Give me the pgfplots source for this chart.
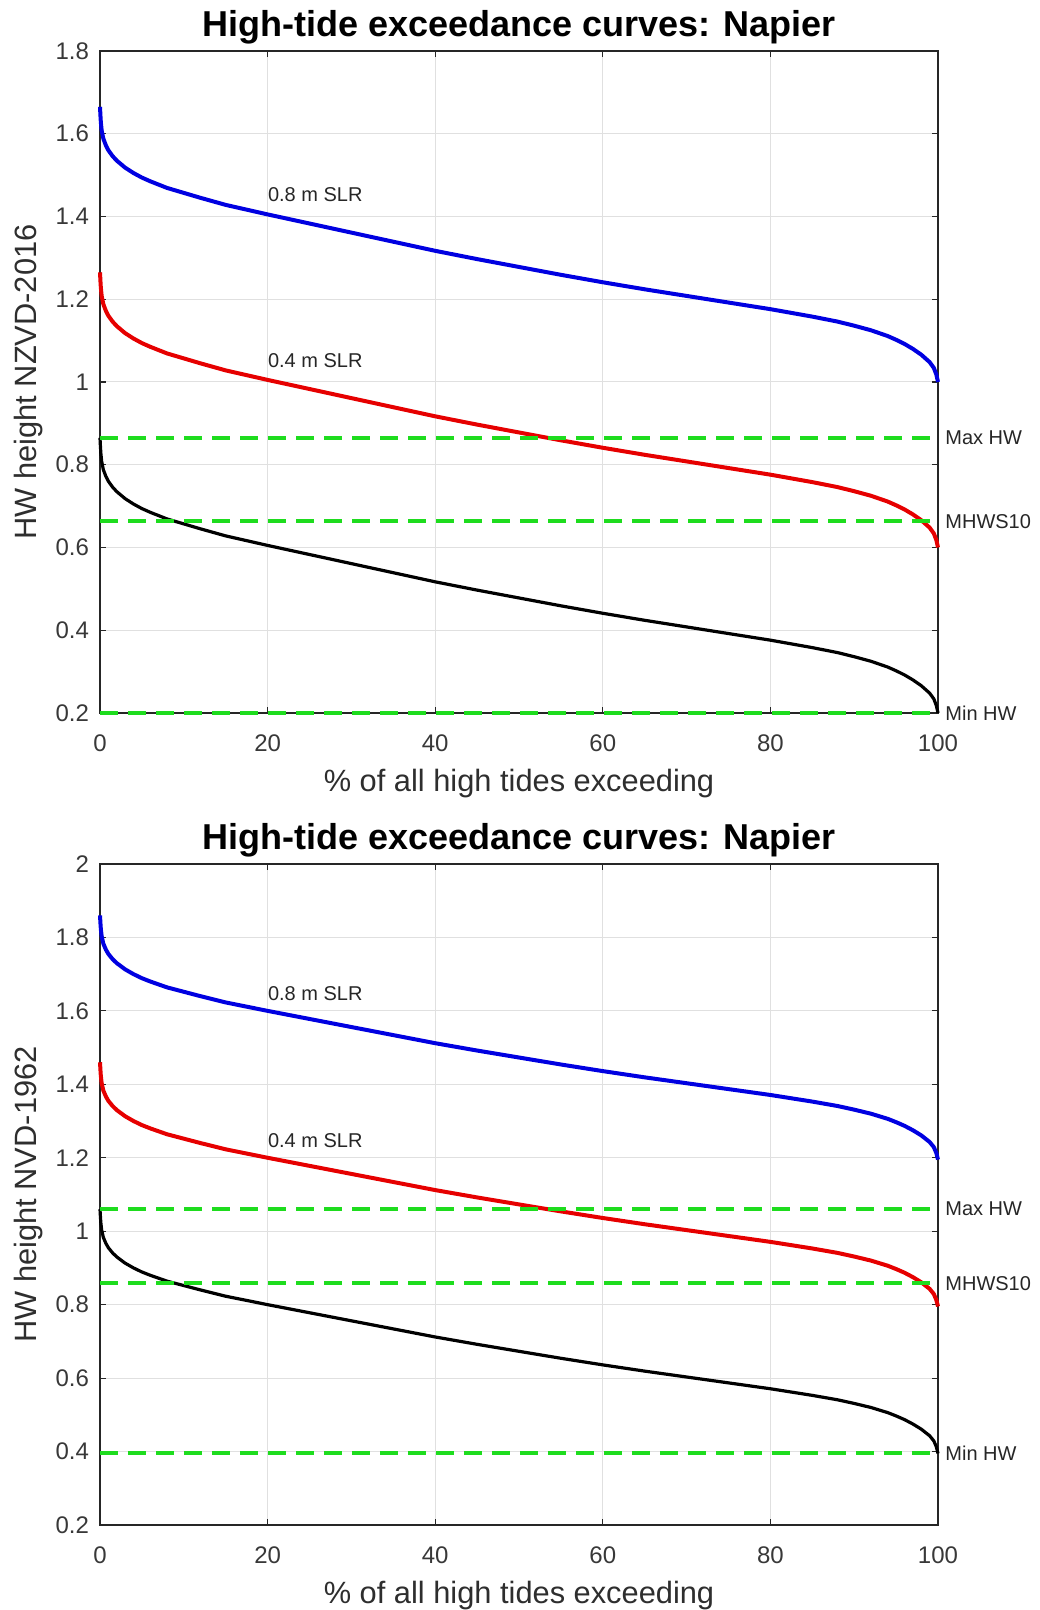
\documentclass[border=0pt]{standalone}
\usepackage{pgfplots}
\pgfplotsset{compat=1.18}
\usepackage{pgfplotstable}
\usepackage{fontspec}
\setmainfont{Liberation Sans}
\definecolor{mgreen}{RGB}{30,220,30}
\definecolor{mblue}{RGB}{0,0,225}
\definecolor{mred}{RGB}{230,0,0}
\definecolor{axgray}{RGB}{38,38,38}

\pgfplotstableread{
x base p04 p08
0 0.865 1.265 1.665
0.05 0.845 1.245 1.645
0.1 0.828 1.228 1.628
0.2 0.808 1.208 1.608
0.4 0.788 1.188 1.588
0.7 0.772 1.172 1.572
1 0.760 1.160 1.560
1.5 0.746 1.146 1.546
2 0.735 1.135 1.535
3 0.718 1.118 1.518
4 0.705 1.105 1.505
5 0.694 1.094 1.494
6 0.685 1.085 1.485
8 0.669 1.069 1.469
10 0.657 1.057 1.457
12 0.645 1.045 1.445
15 0.628 1.028 1.428
20 0.605 1.005 1.405
25 0.583 0.983 1.383
30 0.561 0.961 1.361
35 0.539 0.939 1.339
40 0.517 0.917 1.317
45 0.497 0.897 1.297
50 0.478 0.878 1.278
55 0.459 0.859 1.259
60 0.441 0.841 1.241
65 0.424 0.824 1.224
70 0.408 0.808 1.208
75 0.392 0.792 1.192
80 0.376 0.776 1.176
85 0.358 0.758 1.158
88 0.346 0.746 1.146
90 0.336 0.736 1.136
92 0.325 0.725 1.125
94 0.311 0.711 1.111
95 0.302 0.702 1.102
96 0.292 0.692 1.092
97 0.280 0.680 1.080
98 0.266 0.666 1.066
99 0.248 0.648 1.048
99.5 0.234 0.634 1.034
99.8 0.218 0.618 1.018
100 0.200 0.600 1.000
}\topdata

\pgfplotstableread{
x base p04 p08
0 1.060 1.460 1.860
0.05 1.040 1.440 1.840
0.1 1.023 1.423 1.823
0.2 1.003 1.403 1.803
0.4 0.983 1.383 1.783
0.7 0.967 1.367 1.767
1 0.955 1.355 1.755
1.5 0.941 1.341 1.741
2 0.930 1.330 1.730
3 0.913 1.313 1.713
4 0.900 1.300 1.700
5 0.889 1.289 1.689
6 0.880 1.280 1.680
8 0.864 1.264 1.664
10 0.852 1.252 1.652
12 0.840 1.240 1.640
15 0.823 1.223 1.623
20 0.800 1.200 1.600
25 0.778 1.178 1.578
30 0.756 1.156 1.556
35 0.734 1.134 1.534
40 0.712 1.112 1.512
45 0.692 1.092 1.492
50 0.673 1.073 1.473
55 0.654 1.054 1.454
60 0.636 1.036 1.436
65 0.619 1.019 1.419
70 0.603 1.003 1.403
75 0.587 0.987 1.387
80 0.571 0.971 1.371
85 0.553 0.953 1.353
88 0.541 0.941 1.341
90 0.531 0.931 1.331
92 0.520 0.920 1.320
94 0.506 0.906 1.306
95 0.497 0.897 1.297
96 0.487 0.887 1.287
97 0.475 0.875 1.275
98 0.461 0.861 1.261
99 0.443 0.843 1.243
99.5 0.429 0.829 1.229
99.8 0.413 0.813 1.213
100 0.395 0.795 1.195
}\botdata

\tikzset{
  annot/.style={font=\fontsize{10}{12}\selectfont, text=black!85, inner sep=0pt, anchor=west},
  glabel/.style={font=\fontsize{10}{12}\selectfont, text=black!85, inner sep=0pt, anchor=west, xshift=3.5pt},
  gline/.style={mgreen, line width=2pt, dash pattern=on 9pt off 5pt},
}
\pgfplotsset{
  tidestyle/.style={
    scale only axis,
    width=419pt,
    anchor=south west,
    xmin=0, xmax=100,
    xtick={0,20,40,60,80,100},
    clip=false,
    axis line style={axgray, line width=0.6pt},
    tick style={axgray, line width=0.6pt},
    major tick length=3pt,
    tick align=inside,
    grid=major,
    major grid style={black!12, line width=0.5pt},
    /pgf/number format/assume math mode=true,
    ticklabel style={font=\fontsize{12}{14}\selectfont, text=black!78},
    xticklabel style={yshift=-7.5pt},
    yticklabel style={xshift=-2pt},
    label style={font=\fontsize{15.4}{18}\selectfont, text=black!82},
    xlabel style={at={(axis description cs:0.5,-0.1073)}, anchor=center},
    ylabel style={at={(axis description cs:-0.0847,0.5)}, anchor=center},
    title style={font=\bfseries\fontsize{18}{21}\selectfont, at={(axis description cs:0.5,1)}, anchor=center, yshift=6pt},
    title={High-tide exceedance curves: Napier},
    xlabel={\% of all high tides exceeding},
  },
}

\begin{document}
\begin{tikzpicture}
\path[use as bounding box] (0pt,0pt) rectangle (519.5pt,805pt);

\begin{axis}[tidestyle,
  at={(50pt,448.5pt)},
  height=331pt,
  ymin=0.2, ymax=1.8,
  ytick={0.2,0.4,0.6,0.8,1,1.2,1.4,1.6,1.8},
  ylabel={HW height NZVD-2016},
]
\addplot[mblue, line width=2pt] table[x=x, y=p08] {\topdata};
\addplot[mred, line width=2pt] table[x=x, y=p04] {\topdata};
\addplot[black, line width=1.6pt] table[x=x, y=base] {\topdata};
\addplot[gline] coordinates {(0,0.865) (100,0.865)};
\addplot[gline] coordinates {(0,0.663) (100,0.663)};
\addplot[gline] coordinates {(0,0.2) (100,0.2)};
\node[annot] at (axis cs:20,1.452) {0.8 m SLR};
\node[annot] at (axis cs:20,1.052) {0.4 m SLR};
\node[glabel] at (axis cs:100,0.865) {Max HW};
\node[glabel] at (axis cs:100,0.663) {MHWS10};
\node[glabel] at (axis cs:100,0.2) {Min HW};
\end{axis}

\begin{axis}[tidestyle,
  at={(50pt,42.5pt)},
  height=330.5pt,
  ymin=0.2, ymax=2,
  ytick={0.2,0.4,0.6,0.8,1,1.2,1.4,1.6,1.8,2},
  ylabel={HW height NVD-1962},
]
\addplot[mblue, line width=2pt] table[x=x, y=p08] {\botdata};
\addplot[mred, line width=2pt] table[x=x, y=p04] {\botdata};
\addplot[black, line width=1.6pt] table[x=x, y=base] {\botdata};
\addplot[gline] coordinates {(0,1.06) (100,1.06)};
\addplot[gline] coordinates {(0,0.858) (100,0.858)};
\addplot[gline] coordinates {(0,0.395) (100,0.395)};
\node[annot] at (axis cs:20,1.647) {0.8 m SLR};
\node[annot] at (axis cs:20,1.247) {0.4 m SLR};
\node[glabel] at (axis cs:100,1.06) {Max HW};
\node[glabel] at (axis cs:100,0.858) {MHWS10};
\node[glabel] at (axis cs:100,0.395) {Min HW};
\end{axis}
\end{tikzpicture}
\end{document}
